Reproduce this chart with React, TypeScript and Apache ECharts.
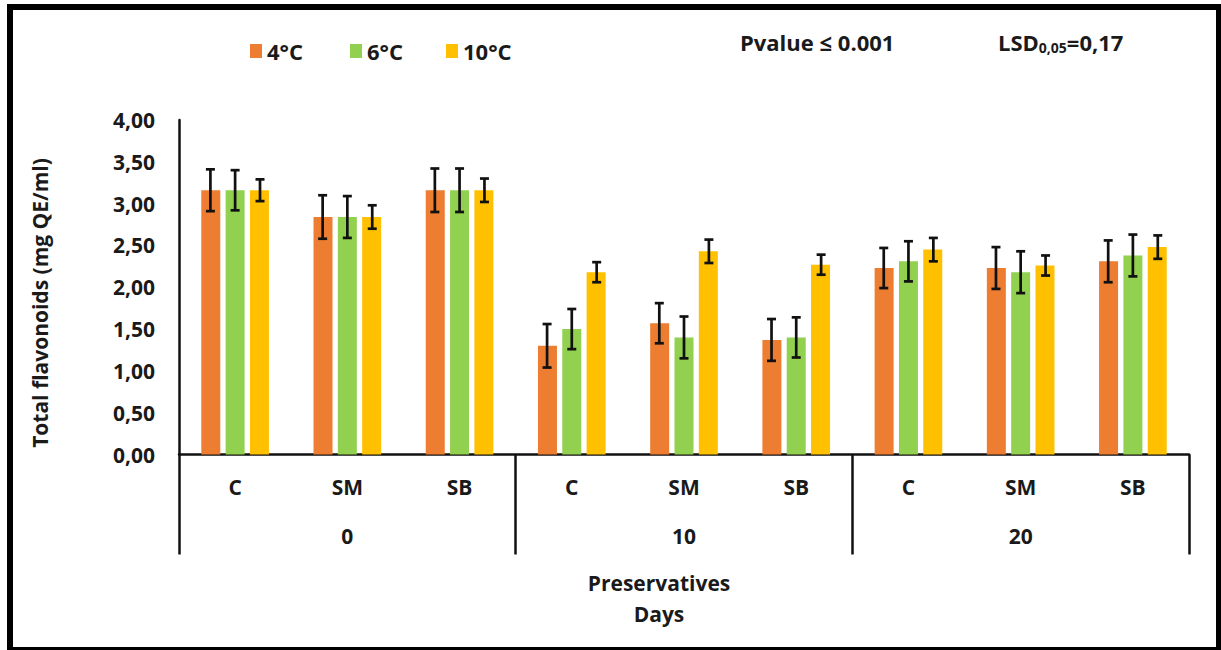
import React, { useEffect, useRef } from "react";
import * as echarts from "echarts";

const categories = ["C", "SM", "SB", "C", "SM", "SB", "C", "SM", "SB"];
const days = ["0", "10", "20"];
const seriesNames = ["4°C", "6°C", "10°C"];
const seriesColors = ["#ED7D31", "#92D050", "#FFC000"];
const values4 = [3.16, 2.84, 3.16, 1.3, 1.57, 1.37, 2.23, 2.23, 2.31];
const values6 = [3.16, 2.84, 3.16, 1.5, 1.4, 1.4, 2.31, 2.18, 2.38];
const values10 = [3.16, 2.84, 3.16, 2.18, 2.43, 2.27, 2.45, 2.26, 2.48];
const err4 = [0.25, 0.26, 0.26, 0.26, 0.24, 0.25, 0.24, 0.25, 0.25];
const err6 = [0.24, 0.25, 0.26, 0.24, 0.25, 0.24, 0.24, 0.25, 0.25];
const err10 = [0.13, 0.14, 0.14, 0.12, 0.14, 0.12, 0.14, 0.12, 0.14];
const yTicks = [0, 0.5, 1, 1.5, 2, 2.5, 3, 3.5, 4];

const FONT = "Open Sans";
const TXT = "#1a1a1a";
const FS = 21;

export default function App() {
  const ref = useRef<HTMLDivElement>(null);
  useEffect(() => {
    if (!ref.current) return;
    const chart = echarts.init(ref.current, null, { renderer: "svg" });
    const allValues = [values4, values6, values10];
    const allErr = [err4, err6, err10];
    const barW = 19;
    const offsets = [-24.7, 0, 24.9];
    const legendLefts = [245, 345, 441];

    const barSeries = seriesNames.map((name, i) => ({
      name,
      type: "bar",
      xAxisIndex: 0,
      data: allValues[i],
      barWidth: barW,
      barGap: "28%",
      itemStyle: { color: seriesColors[i] },
      z: 2,
    }));

    const errSeries = seriesNames.map((name, i) => ({
      name: name + " err",
      type: "custom",
      xAxisIndex: 0,
      data: allValues[i].map((v, k) => [k, v - allErr[i][k], v + allErr[i][k]]),
      encode: { x: 0, y: [1, 2] },
      z: 5,
      renderItem: (params: any, api: any) => {
        const idx = api.value(0);
        const lo = api.coord([idx, api.value(1)]);
        const hi = api.coord([idx, api.value(2)]);
        const cx = lo[0] + offsets[i];
        const cap = 4.5;
        const style = { stroke: "#111", lineWidth: 2.7 };
        return {
          type: "group",
          children: [
            { type: "line", shape: { x1: cx, y1: hi[1], x2: cx, y2: lo[1] }, style },
            { type: "line", shape: { x1: cx - cap, y1: hi[1], x2: cx + cap, y2: hi[1] }, style },
            { type: "line", shape: { x1: cx - cap, y1: lo[1], x2: cx + cap, y2: lo[1] }, style },
          ],
        };
      },
    }));

    const legends = seriesNames.map((name, i) => ({
      data: [name],
      left: legendLefts[i],
      top: 35,
      itemWidth: 12,
      itemHeight: 14,
      itemGap: 0,
      icon: "rect",
      selectedMode: false,
      textStyle: { fontFamily: FONT, fontWeight: "bold", fontSize: 22, color: TXT },
    }));

    const textStyleBase = {
      fontFamily: FONT,
      fontWeight: "bold",
      fontSize: FS,
      fill: TXT,
      verticalAlign: "middle",
    };

    chart.setOption({
      animation: false,
      backgroundColor: "#ffffff",
      textStyle: { fontFamily: FONT },
      grid: { left: 179, right: 32, top: 120, bottom: 195.5, containLabel: false },
      legend: legends,
      xAxis: [
        {
          type: "category",
          data: categories,
          position: "bottom",
          axisLine: { show: true, lineStyle: { color: "#111", width: 2.5 } },
          axisTick: { show: false },
          axisLabel: {
            interval: 0,
            margin: 22,
            fontFamily: FONT,
            fontWeight: "bold",
            fontSize: FS,
            color: TXT,
          },
        },
        {
          type: "category",
          data: days,
          position: "bottom",
          axisLine: { show: false },
          axisTick: { show: true, length: 100, interval: 0, lineStyle: { color: "#111", width: 2.5 } },
          axisLabel: {
            interval: 0,
            margin: 71,
            fontFamily: FONT,
            fontWeight: "bold",
            fontSize: FS,
            color: TXT,
          },
        },
      ],
      yAxis: {
        type: "value",
        min: 0,
        max: 4,
        interval: 0.5,
        axisLine: { show: true, lineStyle: { color: "#111", width: 2.5 } },
        axisTick: { show: false },
        splitLine: { show: false },
        axisLabel: {
          margin: 24,
          fontFamily: FONT,
          fontWeight: "bold",
          fontSize: FS,
          color: TXT,
          formatter: (v: number) => (yTicks.includes(v) ? v.toFixed(2).replace(".", ",") : ""),
        },
      },
      graphic: [
        {
          type: "rect",
          shape: { x: 10, y: 7, width: 1209, height: 643 },
          style: { fill: "none", stroke: "#000", lineWidth: 6 },
          silent: true,
        },
        {
          type: "text",
          x: 40,
          y: 303,
          rotation: Math.PI / 2,
          style: { ...textStyleBase, fontSize: 21, text: "Total flavonoids (mg QE/ml)", align: "center" },
        },
        {
          type: "text",
          x: 659,
          y: 583,
          style: { ...textStyleBase, text: "Preservatives", align: "center" },
        },
        {
          type: "text",
          x: 659,
          y: 614,
          style: { ...textStyleBase, text: "Days", align: "center" },
        },
        {
          type: "text",
          x: 740,
          y: 42,
          style: { ...textStyleBase, fontSize: 22, text: "Pvalue ≤ 0.001", align: "left" },
        },
        {
          type: "text",
          x: 998,
          y: 42,
          style: {
            ...textStyleBase,
            fontSize: 22,
            text: "LSD{sub|0,05}=0,17",
            align: "left",
            rich: {
              sub: {
                fontFamily: FONT,
                fontWeight: "bold",
                fontSize: 14,
                fill: TXT,
                padding: [10, 0, 0, 0],
              },
            },
          },
        },
      ],
      series: [...barSeries, ...errSeries],
    });
    return () => chart.dispose();
  }, []);
  return (
    <div
      ref={ref}
      style={{ position: "absolute", left: 0, top: 0, width: 1221, height: 650, background: "#fff" }}
    />
  );
}
